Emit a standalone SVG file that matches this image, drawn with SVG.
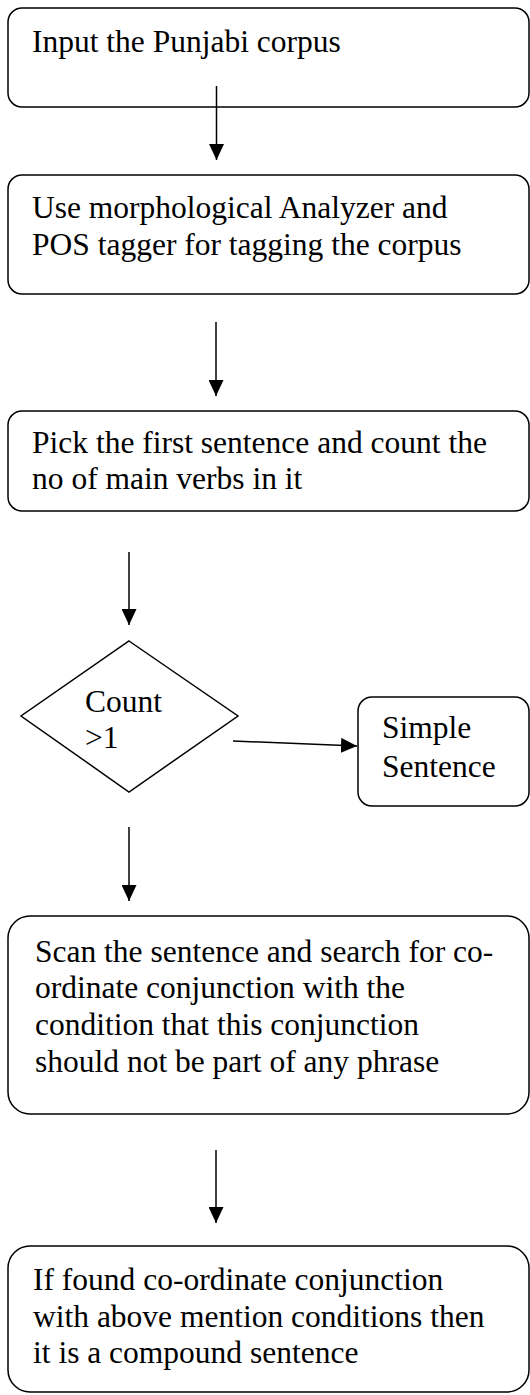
<svg xmlns="http://www.w3.org/2000/svg" width="530" height="1395" viewBox="0 0 530 1395">
<style>
.box{fill:#fff;stroke:#000;stroke-width:1.5}
.t{font-family:'Liberation Serif','Times New Roman',serif;font-size:31.5px;fill:#000}
.c{stroke:#000;stroke-width:1.5;fill:none}
</style>
<defs>
<marker id="ah" viewBox="0 0 16 15" refX="16" refY="7.5" markerWidth="16" markerHeight="15" markerUnits="userSpaceOnUse" orient="auto">
<path d="M0,0 L16,7.5 L0,15 Z" fill="#000"/>
</marker>
</defs>
<rect width="530" height="1395" fill="#fff"/>
<g id="n1">
<rect class="box" x="8" y="8" width="521" height="99" rx="14"/>
<text class="t" x="32" y="52">Input the Punjabi corpus</text>
</g>
<g id="n2">
<rect class="box" x="8" y="175" width="521" height="119" rx="14"/>
<text class="t" x="32" y="218">Use morphological Analyzer and</text>
<text class="t" x="32" y="255">POS tagger for tagging the corpus</text>
</g>
<g id="n3">
<rect class="box" x="8" y="411" width="521" height="100" rx="14"/>
<text class="t" x="32" y="453">Pick the first sentence and count the</text>
<text class="t" x="32" y="489">no of main verbs in it</text>
</g>
<g id="n4">
<polygon class="box" points="129,641 238,716 129,792 21,716"/>
<text class="t" x="85" y="712">Count</text>
<text class="t" x="85" y="748">&gt;1</text>
</g>
<g id="n5">
<rect class="box" x="358" y="697" width="171" height="109" rx="14"/>
<text class="t" x="382" y="738">Simple</text>
<text class="t" x="382" y="777">Sentence</text>
</g>
<g id="n6">
<rect class="box" x="8" y="916" width="521" height="198" rx="22"/>
<text class="t" x="35" y="962">Scan the sentence and search for co-</text>
<text class="t" x="35" y="998">ordinate conjunction with the</text>
<text class="t" x="35" y="1035">condition that this conjunction</text>
<text class="t" x="35" y="1072">should not be part of any phrase</text>
</g>
<g id="n7">
<rect class="box" x="8" y="1246" width="521" height="146" rx="22"/>
<text class="t" x="33" y="1290">If found co-ordinate conjunction</text>
<text class="t" x="33" y="1327">with above mention conditions then</text>
<text class="t" x="33" y="1363">it is a compound sentence</text>
</g>
<g id="connectors">
<line class="c" x1="216.5" y1="86" x2="216.5" y2="160" marker-end="url(#ah)"/>
<line class="c" x1="216" y1="322" x2="216" y2="396" marker-end="url(#ah)"/>
<line class="c" x1="129" y1="552" x2="129" y2="625" marker-end="url(#ah)"/>
<line class="c" x1="233" y1="741" x2="357" y2="746" marker-end="url(#ah)"/>
<line class="c" x1="129" y1="827" x2="129" y2="901" marker-end="url(#ah)"/>
<line class="c" x1="216" y1="1150" x2="216" y2="1223" marker-end="url(#ah)"/>
</g>
</svg>
